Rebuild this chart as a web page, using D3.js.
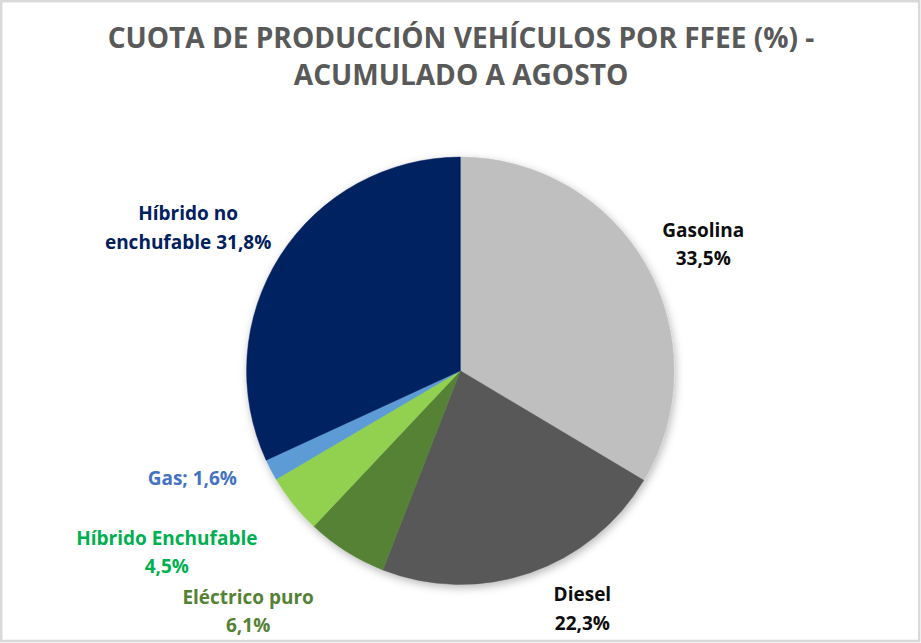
<!DOCTYPE html>
<html>
<head>
<meta charset="utf-8">
<script src="https://cdn.jsdelivr.net/npm/d3@7"></script>
<style>
  body { margin: 0; background: #fff; }
  svg { display: block; font-family: "Open Sans", sans-serif; }
</style>
</head>
<body>
<svg id="chart" width="921" height="643"></svg>
<script>
// data, clockwise from 12 o'clock
const categories = ["Gasolina", "Diesel", "Eléctrico puro", "Híbrido Enchufable", "Gas", "Híbrido no enchufable"];
const shares = [33.5, 22.3, 6.1, 4.5, 1.6, 31.8];
const sliceColors = ["#bfbfbf", "#595959", "#548235", "#92d050", "#5b9bd5", "#002060"];
const labelColors = ["#0d0d0d", "#0d0d0d", "#548235", "#00b050", "#4472c4", "#002060"];
// text lines of each data label
const labelLines = [
  ["Gasolina", "33,5%"],
  ["Diesel", "22,3%"],
  ["Eléctrico puro", "6,1%"],
  ["Híbrido Enchufable", "4,5%"],
  ["Gas; 1,6%"],
  ["Híbrido no", "enchufable 31,8%"]
];
// nudges of the labels away from the point just outside each slice
const labelNudge = [[31, -14], [43, 0], [-82, 27], [-103, 22], [-52, 1], [-67, -19]];
const titleLines = ["CUOTA DE PRODUCCIÓN VEHÍCULOS POR FFEE (%) -", "ACUMULADO A AGOSTO"];

const svg = d3.select("#chart");
const width = +svg.attr("width");
const height = +svg.attr("height");
const cx = 460.3, cy = 370.8, radius = 213.7;

// frame
svg.append("rect")
    .attr("x", 1.2).attr("y", 1.2)
    .attr("width", width - 3).attr("height", height - 3.2)
    .attr("fill", "#fff")
    .attr("stroke", "#d9d9d9")
    .attr("stroke-width", 2.5);

// soft shadow under the pie
const defs = svg.append("defs");
const f = defs.append("filter").attr("id", "shadow")
    .attr("x", "-20%").attr("y", "-20%").attr("width", "140%").attr("height", "140%");
f.append("feDropShadow")
    .attr("dx", 1.5).attr("dy", 3)
    .attr("stdDeviation", 4)
    .attr("flood-color", "#000")
    .attr("flood-opacity", 0.28);

// title
const title = svg.append("g").attr("fill", "#595959").style("font-weight", "bold");
const t1 = title.append("text")
    .attr("x", 461).attr("y", 48)
    .attr("text-anchor", "middle")
    .style("font-size", "28px")
    .text(titleLines[0]);
// fit the first line to the width of the original
const w1 = t1.node().getComputedTextLength();
const titleSize = 28 * 707 / w1;
t1.style("font-size", titleSize + "px");
title.append("text")
    .attr("x", 461).attr("y", 85)
    .attr("text-anchor", "middle")
    .style("font-size", titleSize + "px")
    .text(titleLines[1]);

// pie
const data = categories.map((c, i) => ({name: c, value: shares[i], i}));
const pie = d3.pie().value(d => d.value).sort(null);
const arc = d3.arc().innerRadius(0).outerRadius(radius);
const arcs = pie(data);

const g = svg.append("g").attr("transform", `translate(${cx},${cy})`);
g.append("g")
    .attr("filter", "url(#shadow)")
    .selectAll("path")
    .data(arcs)
    .join("path")
    .attr("d", arc)
    .attr("fill", d => sliceColors[d.data.i])
    .attr("stroke", d => sliceColors[d.data.i])
    .attr("stroke-width", 0.5);

// data labels
const outer = d3.arc().innerRadius(radius + 30).outerRadius(radius + 30);
const labels = g.append("g")
    .style("font-size", "19px")
    .style("font-weight", "bold")
    .attr("text-anchor", "middle");

arcs.forEach(d => {
    const i = d.data.i;
    const [px, py] = outer.centroid(d);
    const x = px + labelNudge[i][0];
    const y = py + labelNudge[i][1];
    const t = labels.append("text")
        .attr("fill", labelColors[i]);
    labelLines[i].forEach((line, k) => {
        t.append("tspan")
            .attr("x", x)
            .attr("y", y + k * 28.5)
            .text(line);
    });
});
</script>
</body>
</html>
